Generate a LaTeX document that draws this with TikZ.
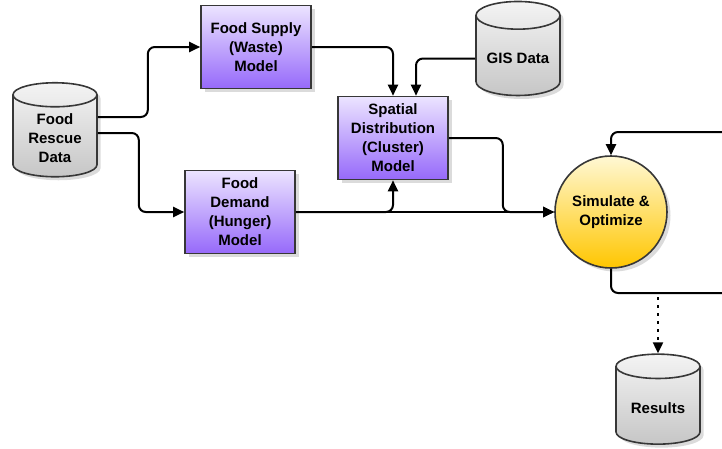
\documentclass[tikz,border=0pt]{standalone}
\usepackage{fontspec}
\setmainfont{Liberation Sans}
\usetikzlibrary{shapes.geometric,shadows,arrows.meta}

\definecolor{purpletop}{RGB}{236,228,255}
\definecolor{purplebot}{RGB}{150,105,250}
\definecolor{suntop}{RGB}{255,248,212}
\definecolor{sunbot}{RGB}{255,198,0}
\definecolor{drumtop}{RGB}{244,244,244}
\definecolor{drumbot}{RGB}{198,198,198}
\definecolor{edge}{RGB}{55,55,55}

\tikzset{
  shade/.style={drop shadow={shadow xshift=3.5pt,shadow yshift=-3.5pt,fill=black!28}},
  model/.style={rectangle, draw=edge, line width=1.6pt, top color=purpletop, bottom color=purplebot,
    minimum width=110pt, minimum height=83pt, align=center, shade},
  store/.style={cylinder, shape border rotate=90, aspect=0.4, draw=edge, line width=1.6pt,
    top color=drumtop, bottom color=drumbot, minimum width=84pt, minimum height=94pt, align=center, shade},
  engine/.style={circle, draw=edge, line width=1.6pt, top color=suntop, bottom color=sunbot,
    minimum size=112pt, align=center, shade},
  flow/.style={line width=2pt, rounded corners=7pt, -{Triangle[length=11pt,width=10pt]}},
  plain/.style={line width=2pt, rounded corners=7pt},
}

\begin{document}
\begin{tikzpicture}[x=1pt,y=-1pt,font=\bfseries\fontsize{15}{19}\selectfont]
  \useasboundingbox (0,0) rectangle (722,448);

  % data stores
  \node [store] (rescue) at (55,138.5) {Food\\Rescue\\Data};
  \node [store] (gis) at (518,58.5) {GIS Data};
  \node [store, minimum height=90pt] (results) at (658,408) {Results};

  % models
  \node [model] (supply) at (256,47) {Food Supply\\(Waste)\\Model};
  \node [model] (demand) at (240,212) {Food\\Demand\\(Hunger)\\Model};
  \node [model] (spatial) at (393,138) {Spatial\\Distribution\\(Cluster)\\Model};

  \node [engine] (sim) at (611,212) {Simulate \&\\Optimize};

  % loop ends at the right edge
  \coordinate (loopin) at (722,132);
  \coordinate (loopout) at (722,293);

  \draw [flow] ([yshift=21.5pt]rescue.east) -- ++(50,0) |- (supply.west);
  \draw [flow] ([yshift=5.5pt]rescue.east) -- ++(41,0) |- (demand.west);
  \draw [flow] (supply.east) -| (spatial.north);
  \draw [flow] (gis.west) -| ([xshift=23pt]spatial.north);
  \draw [flow] (demand.east) -| (spatial.south);
  \draw [flow] (demand.east) -- (sim.west);
  \draw [flow] (spatial.east) -- ++(54,0) |- (sim.west);
  \draw [flow] (loopin) -| (sim.north);
  \draw [plain] (sim.south) |- (loopout);
  \draw [flow, dash pattern=on 3pt off 5pt] ([yshift=-4pt]results.north |- loopout) -- (results.north);
\end{tikzpicture}
\end{document}
